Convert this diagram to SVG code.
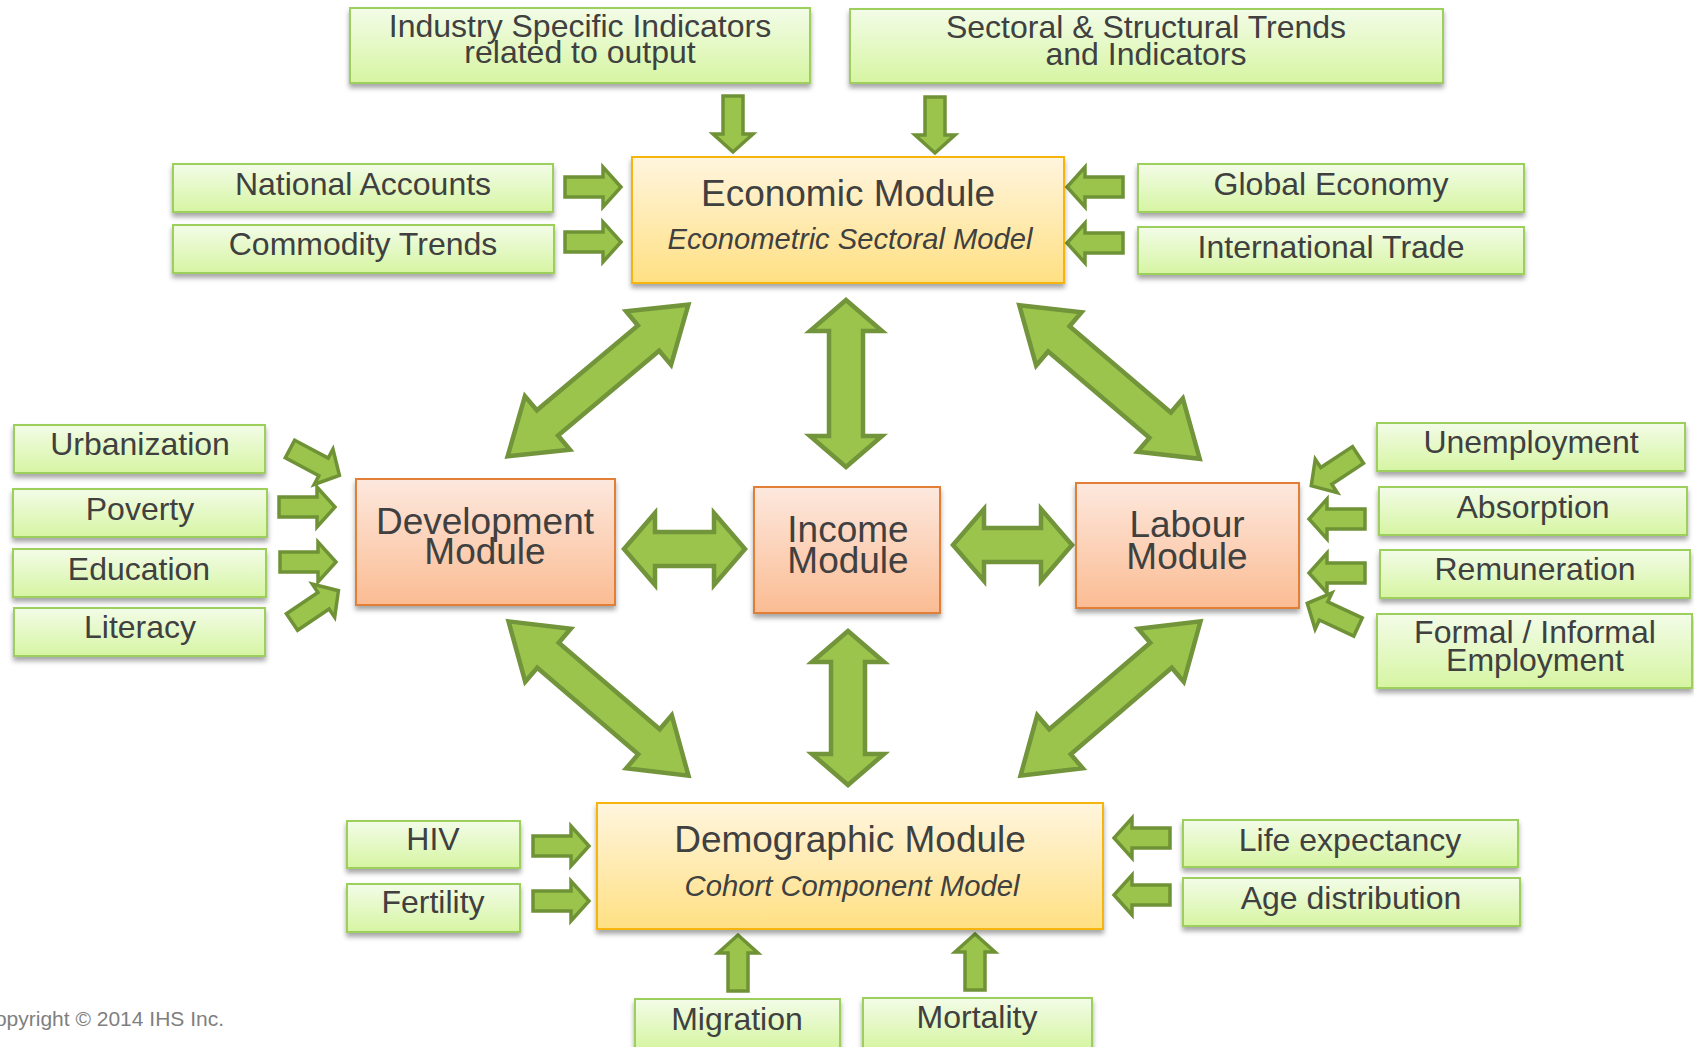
<svg xmlns="http://www.w3.org/2000/svg" width="1694" height="1047" viewBox="0 0 1694 1047">
<style>
text{font-family:"Liberation Sans",Arial,sans-serif;fill:#404040;text-anchor:middle}
.s{font-size:32px}
.b{font-size:37px}
.i{font-size:29px;font-style:italic}
.g{fill:url(#gg);stroke:#9CCF5C;stroke-width:2;filter:url(#sh)}
.y{fill:url(#gy);stroke:#F5B50F;stroke-width:2;filter:url(#sh)}
.o{fill:url(#go);stroke:#E07F35;stroke-width:2;filter:url(#sh)}
.ba{fill:#9AC44C;stroke:#72943A;stroke-width:4.5;stroke-linejoin:miter}
.sa{fill:#9AC44C;stroke:#6F9236;stroke-width:3.5;stroke-linejoin:miter}
.cp{font-size:21px;fill:#7F7F7F;text-anchor:end}
</style>
<defs>
<linearGradient id="gg" x1="0" y1="0" x2="0" y2="1"><stop offset="0" stop-color="#F3FCE8"/><stop offset="1" stop-color="#D6F5A2"/></linearGradient>
<linearGradient id="gy" x1="0" y1="0" x2="0" y2="1"><stop offset="0" stop-color="#FFF5DE"/><stop offset="1" stop-color="#FFE083"/></linearGradient>
<linearGradient id="go" x1="0" y1="0" x2="0" y2="1"><stop offset="0" stop-color="#FDE8DE"/><stop offset="1" stop-color="#FBBC93"/></linearGradient>
<filter id="sh" x="-10%" y="-20%" width="120%" height="150%"><feDropShadow dx="0" dy="4" stdDeviation="2.5" flood-color="#000" flood-opacity="0.35"/></filter>
<path id="sm" d="M0,-10 H38 V-20 L56,0 L38,20 V10 H0 Z"/>
</defs>

<g id="connectors">
<path class="ba" transform="translate(846,383.5) rotate(90)" d="M-83.5,0 L-52.5,-36 L-52.5,-17 L52.5,-17 L52.5,-36 L83.5,0 L52.5,36 L52.5,17 L-52.5,17 L-52.5,36 Z"/>
<path class="ba" transform="translate(848,708) rotate(90)" d="M-77,0 L-46,-36 L-46,-17 L46,-17 L46,-36 L77,0 L46,36 L46,17 L-46,17 L-46,36 Z"/>
<path class="ba" transform="translate(684.5,549)" d="M-60.5,0 L-29.5,-36 L-29.5,-17 L29.5,-17 L29.5,-36 L60.5,0 L29.5,36 L29.5,17 L-29.5,17 L-29.5,36 Z"/>
<path class="ba" transform="translate(1012.5,545)" d="M-59.5,0 L-28.5,-36 L-28.5,-17 L28.5,-17 L28.5,-36 L59.5,0 L28.5,36 L28.5,17 L-28.5,17 L-28.5,36 Z"/>
<path class="ba" transform="translate(598,380.5) rotate(-40)" d="M-118,0 L-66,-35 L-66,-16.5 L66,-16.5 L66,-35 L118,0 L66,35 L66,16.5 L-66,16.5 L-66,35 Z"/>
<path class="ba" transform="translate(1109.5,382) rotate(40.4)" d="M-118.5,0 L-66.5,-35 L-66.5,-16.5 L66.5,-16.5 L66.5,-35 L118.5,0 L66.5,35 L66.5,16.5 L-66.5,16.5 L-66.5,35 Z"/>
<path class="ba" transform="translate(598.5,698.5) rotate(40.6)" d="M-118.5,0 L-66.5,-35 L-66.5,-16.5 L66.5,-16.5 L66.5,-35 L118.5,0 L66.5,35 L66.5,16.5 L-66.5,16.5 L-66.5,35 Z"/>
<path class="ba" transform="translate(1110.5,698.5) rotate(-40.6)" d="M-118.5,0 L-66.5,-35 L-66.5,-16.5 L66.5,-16.5 L66.5,-35 L118.5,0 L66.5,35 L66.5,16.5 L-66.5,16.5 L-66.5,35 Z"/>
<use href="#sm" class="sa" transform="translate(733,96) rotate(90)"/>
<use href="#sm" class="sa" transform="translate(935,97) rotate(90)"/>
<use href="#sm" class="sa" transform="translate(565,187)"/>
<use href="#sm" class="sa" transform="translate(565,242)"/>
<use href="#sm" class="sa" transform="translate(1123,187) rotate(180)"/>
<use href="#sm" class="sa" transform="translate(1123,243) rotate(180)"/>
<use href="#sm" class="sa" transform="translate(290,449) rotate(28)"/>
<use href="#sm" class="sa" transform="translate(279,507)"/>
<use href="#sm" class="sa" transform="translate(280,562)"/>
<use href="#sm" class="sa" transform="translate(292,622) rotate(-34)"/>
<use href="#sm" class="sa" transform="translate(1358,455) rotate(146.6)"/>
<use href="#sm" class="sa" transform="translate(1365,519) rotate(180)"/>
<use href="#sm" class="sa" transform="translate(1365,573) rotate(180)"/>
<use href="#sm" class="sa" transform="translate(1358,627) rotate(205)"/>
<use href="#sm" class="sa" transform="translate(533,846)"/>
<use href="#sm" class="sa" transform="translate(533,901)"/>
<use href="#sm" class="sa" transform="translate(1170,838) rotate(180)"/>
<use href="#sm" class="sa" transform="translate(1170,895) rotate(180)"/>
<use href="#sm" class="sa" transform="translate(738,991) rotate(-90)"/>
<use href="#sm" class="sa" transform="translate(975,990) rotate(-90)"/>
</g>

<g id="industry"><rect class="g" x="350" y="8" width="460" height="75"/><text class="s" x="580" y="37">Industry Specific Indicators</text><text class="s" x="580" y="63">related to output</text></g>
<g id="sectoral"><rect class="g" x="850" y="9" width="593" height="74"/><text class="s" x="1146" y="38">Sectoral &amp; Structural Trends</text><text class="s" x="1146" y="65">and Indicators</text></g>
<g id="national"><rect class="g" x="173" y="164" width="380" height="48"/><text class="s" x="363" y="195">National Accounts</text></g>
<g id="commodity"><rect class="g" x="173" y="225" width="381" height="48"/><text class="s" x="363" y="255">Commodity Trends</text></g>
<g id="global"><rect class="g" x="1138" y="164" width="386" height="48"/><text class="s" x="1331" y="195">Global Economy</text></g>
<g id="trade"><rect class="g" x="1138" y="227" width="386" height="47"/><text class="s" x="1331" y="258">International Trade</text></g>

<g id="economic"><rect class="y" x="632" y="157" width="432" height="126"/><text class="b" x="848" y="206">Economic Module</text><text class="i" x="850" y="249" textLength="365" lengthAdjust="spacingAndGlyphs">Econometric Sectoral Model</text></g>

<g id="development"><rect class="o" x="356" y="479" width="259" height="126"/><text class="b" x="485" y="534">Development</text><text class="b" x="485" y="564">Module</text></g>
<g id="income"><rect class="o" x="754" y="487" width="186" height="126"/><text class="b" x="848" y="542">Income</text><text class="b" x="848" y="573">Module</text></g>
<g id="labour"><rect class="o" x="1076" y="483" width="223" height="125"/><text class="b" x="1187" y="537">Labour</text><text class="b" x="1187" y="569">Module</text></g>

<g id="urbanization"><rect class="g" x="14" y="425" width="251" height="48"/><text class="s" x="140" y="455">Urbanization</text></g>
<g id="poverty"><rect class="g" x="13" y="489" width="254" height="48"/><text class="s" x="140" y="520">Poverty</text></g>
<g id="education"><rect class="g" x="13" y="549" width="253" height="48"/><text class="s" x="139" y="580">Education</text></g>
<g id="literacy"><rect class="g" x="14" y="608" width="251" height="48"/><text class="s" x="140" y="638">Literacy</text></g>

<g id="unemployment"><rect class="g" x="1377" y="423" width="308" height="48"/><text class="s" x="1531" y="453">Unemployment</text></g>
<g id="absorption"><rect class="g" x="1379" y="487" width="308" height="48"/><text class="s" x="1533" y="518">Absorption</text></g>
<g id="remuneration"><rect class="g" x="1380" y="550" width="310" height="48"/><text class="s" x="1535" y="580">Remuneration</text></g>
<g id="formal"><rect class="g" x="1377" y="614" width="315" height="74"/><text class="s" x="1535" y="643">Formal / Informal</text><text class="s" x="1535" y="671">Employment</text></g>

<g id="demographic"><rect class="y" x="597" y="803" width="506" height="126"/><text class="b" x="850" y="852">Demographic Module</text><text class="i" x="852" y="896" textLength="335" lengthAdjust="spacingAndGlyphs">Cohort Component Model</text></g>

<g id="hiv"><rect class="g" x="347" y="821" width="173" height="47"/><text class="s" x="433" y="850">HIV</text></g>
<g id="fertility"><rect class="g" x="347" y="884" width="173" height="48"/><text class="s" x="433" y="913">Fertility</text></g>
<g id="life"><rect class="g" x="1183" y="820" width="335" height="47"/><text class="s" x="1350" y="851">Life expectancy</text></g>
<g id="age"><rect class="g" x="1183" y="878" width="337" height="48"/><text class="s" x="1351" y="909">Age distribution</text></g>
<g id="migration"><rect class="g" x="635" y="999" width="205" height="50"/><text class="s" x="737" y="1030">Migration</text></g>
<g id="mortality"><rect class="g" x="863" y="998" width="229" height="51"/><text class="s" x="977" y="1028">Mortality</text></g>

<text class="cp" x="224" y="1026">Copyright © 2014 IHS Inc.</text>
</svg>
